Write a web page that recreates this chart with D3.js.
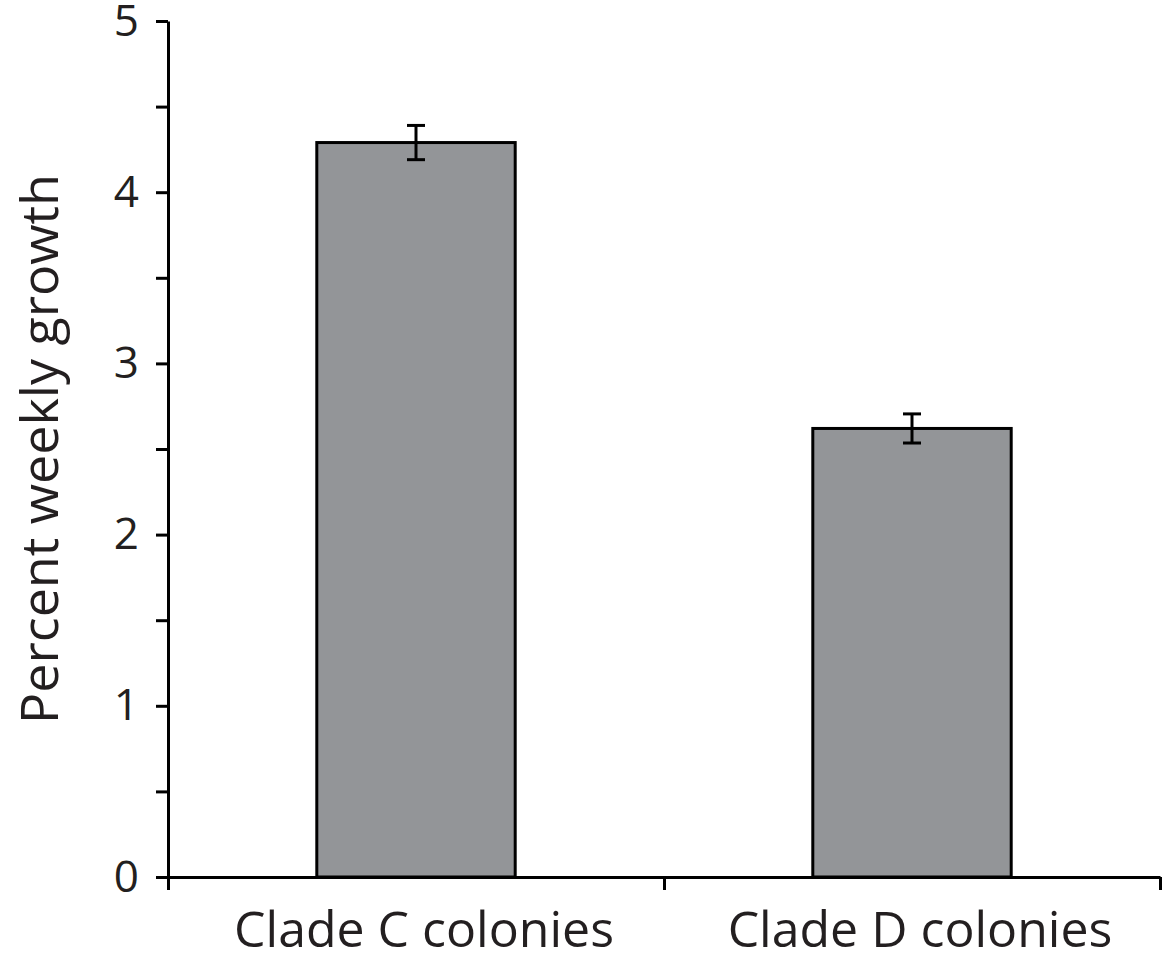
<!DOCTYPE html>
<html>
<head>
<meta charset="utf-8">
<script src="https://cdn.jsdelivr.net/npm/d3@7"></script>
<style>
    body { margin: 0; background: #fff; }
    svg text { font-family: 'Open Sans', sans-serif; fill: #231f20; }
</style>
</head>
<body>
<svg id="chart" width="1165" height="958"></svg>
<script>
// data
const categories = ['Clade C colonies', 'Clade D colonies'];
const growth = [4.29, 2.62];
const errors = [0.10, 0.085];
const yTicks = [0, 0.5, 1, 1.5, 2, 2.5, 3, 3.5, 4, 4.5, 5];

const margin = { top: 21, right: 5, bottom: 81, left: 168 };
const width = 1165 - margin.left - margin.right;
const height = 958 - margin.top - margin.bottom;

const svg = d3.select('#chart');
const g = svg.append('g').attr('transform', `translate(${ margin.left }, ${ margin.top })`);

const x = d3.scaleBand().domain(categories).range([0, width]).padding(0);
const y = d3.scaleLinear().domain([0, 5]).range([height, 0]);
const barWidth = x.bandwidth() * 0.4;

// bars
g.selectAll('.bar')
    .data(categories)
    .enter()
    .append('rect')
    .attr('class', 'bar')
    .attr('x', (d) => x(d) + (x.bandwidth() - barWidth) / 2)
    .attr('y', (d, i) => y(growth[i]))
    .attr('width', barWidth)
    .attr('height', (d, i) => y(0) - y(growth[i]))
    .style('fill', '#939598')
    .style('stroke', '#000')
    .style('stroke-width', 3);

// error bars
const capW = 9;
categories.forEach((c, i) => {
    const cx = x(c) + x.bandwidth() / 2;
    const top = y(growth[i] + errors[i]);
    const bot = y(growth[i] - errors[i]);
    const eg = g.append('g').style('stroke', '#000').style('stroke-width', 3);
    eg.append('line').attr('x1', cx).attr('x2', cx).attr('y1', top).attr('y2', bot);
    eg.append('line').attr('x1', cx - capW).attr('x2', cx + capW).attr('y1', top).attr('y2', top);
    eg.append('line').attr('x1', cx - capW).attr('x2', cx + capW).attr('y1', bot).attr('y2', bot);
});

// x axis, ticks on the category boundaries
const xb = d3.scaleLinear().domain([0, categories.length]).range([0, width]);
const xAxis = g.append('g')
    .attr('transform', `translate(0, ${ height })`)
    .call(d3.axisBottom(xb).tickValues(d3.range(categories.length + 1)).tickFormat('').tickSize(13).tickSizeOuter(0));
xAxis.select('.domain').attr('stroke', '#000').attr('stroke-width', 3);
xAxis.selectAll('.tick line').attr('stroke', '#000').attr('stroke-width', 3);

g.selectAll('.xLabel')
    .data(categories)
    .enter()
    .append('text')
    .attr('class', 'xLabel')
    .text((d) => d)
    .attr('x', (d) => x(d) + x.bandwidth() / 2 + 8)
    .attr('y', height + 70)
    .style('text-anchor', 'middle')
    .style('font-size', '50px');

// y axis
const yAxis = g.append('g')
    .call(d3.axisLeft(y).tickValues(yTicks).tickFormat((d) => (Number.isInteger(d) ? d : '')).tickSize(12).tickSizeOuter(0).tickPadding(17));
yAxis.select('.domain').attr('stroke', '#000').attr('stroke-width', 3);
yAxis.selectAll('.tick line').attr('stroke', '#000').attr('stroke-width', 3);
yAxis.selectAll('.tick text')
    .style('font-size', '44px')
    .style('font-family', "'Open Sans', sans-serif")
    .attr('fill', '#231f20');

svg.append('text')
    .text('Percent weekly growth')
    .attr('transform', `translate(58, ${ margin.top + y(2.5) }) rotate(-90)`)
    .style('text-anchor', 'middle')
    .style('font-size', '52px');
</script>
</body>
</html>
